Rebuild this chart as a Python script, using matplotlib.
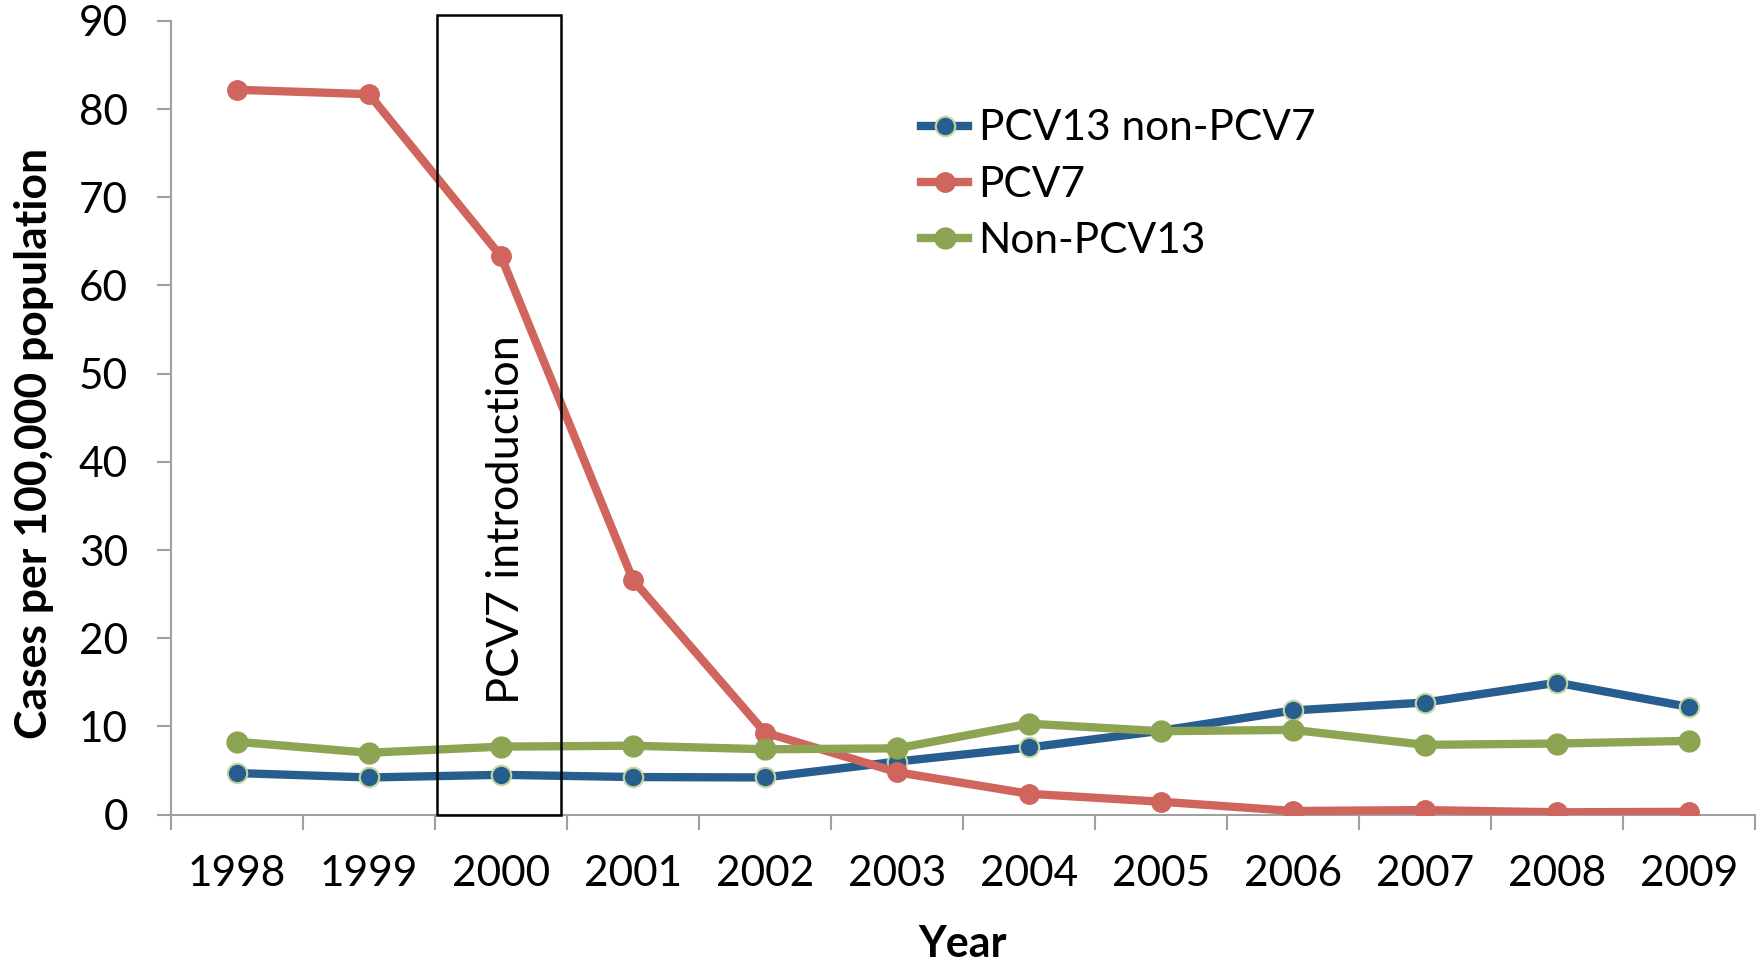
import matplotlib
matplotlib.use("Agg")
import matplotlib.pyplot as plt
from matplotlib.patches import Rectangle
import numpy as np

plt.rcParams['font.family'] = ['Lato', 'DejaVu Sans']

years = ['1998', '1999', '2000', '2001', '2002', '2003',
         '2004', '2005', '2006', '2007', '2008', '2009']
pcv13_non_pcv7 = [4.7, 4.2, 4.5, 4.25, 4.2, 6.0, 7.6, 9.5, 11.8, 12.7, 14.95, 12.2]
pcv7 = [82.2, 81.7, 63.3, 26.6, 9.3, 4.8, 2.35, 1.45, 0.4, 0.5, 0.25, 0.3]
non_pcv13 = [8.25, 7.0, 7.7, 7.8, 7.4, 7.5, 10.3, 9.45, 9.6, 7.9, 8.05, 8.35]

blue = '#275d8f'
red = '#cf655d'
green = '#8da552'
grey = '#a0a0a0'
fs = 30.5

fig = plt.figure(figsize=(17.63, 9.63), dpi=100)
ax = fig.add_axes([171 / 1763, 1 - 814.5 / 963, 1584 / 1763, 793.5 / 963])

x = np.arange(len(years))
ax.plot(x, pcv13_non_pcv7, color=blue, lw=6, marker='o', ms=14,
        mfc=blue, mec='#c3d69b', mew=1.5, label='PCV13 non-PCV7', zorder=3)
ax.plot(x, pcv7, color=red, lw=6, marker='o', ms=14,
        mfc=red, mec=red, label='PCV7', zorder=4)
ax.plot(x, non_pcv13, color=green, lw=6, marker='o', ms=15,
        mfc=green, mec=green, label='Non-PCV13', zorder=5)

# vaccine introduction box around 2000
ax.add_patch(Rectangle((1.515, 0), 0.94, 90.7, fill=False, ec='black',
                       lw=1.8, clip_on=False, zorder=6))
ax.text(2.04, 33.4, 'PCV7 introduction', rotation=90, ha='center',
        va='center', fontsize=32.5, zorder=7)

ax.set_xlim(-0.5, len(years) - 0.5)
ax.set_ylim(0, 90)
ax.set_yticks(np.arange(0, 91, 10))
ax.set_xticks(x)
ax.set_xticklabels(years)
ax.set_xticks(np.arange(-0.5, len(years), 1), minor=True)

for side in ['top', 'right']:
    ax.spines[side].set_visible(False)
for side in ['left', 'bottom']:
    ax.spines[side].set_color(grey)
    ax.spines[side].set_linewidth(1.5)

ax.tick_params(axis='y', length=10, width=1.5, color=grey, pad=21, labelsize=fs)
ax.tick_params(axis='x', which='major', length=0, pad=29, labelsize=fs)
ax.tick_params(axis='x', which='minor', length=11, width=1.5, color=grey)

ax.set_ylabel('Cases per 100,000 population', fontsize=32, fontweight='bold')
ax.yaxis.set_label_coords(-0.074, 0.467)
ax.set_xlabel('Year', fontsize=31, fontweight='bold')
ax.xaxis.set_label_coords(0.5, -0.138)

ax.legend(loc='upper left', bbox_to_anchor=(0.463, 0.91), frameon=False,
          fontsize=fs, handlelength=1.1, handletextpad=0.25, labelspacing=0.43,
          borderaxespad=0)

fig.savefig('out.png', dpi=100)
